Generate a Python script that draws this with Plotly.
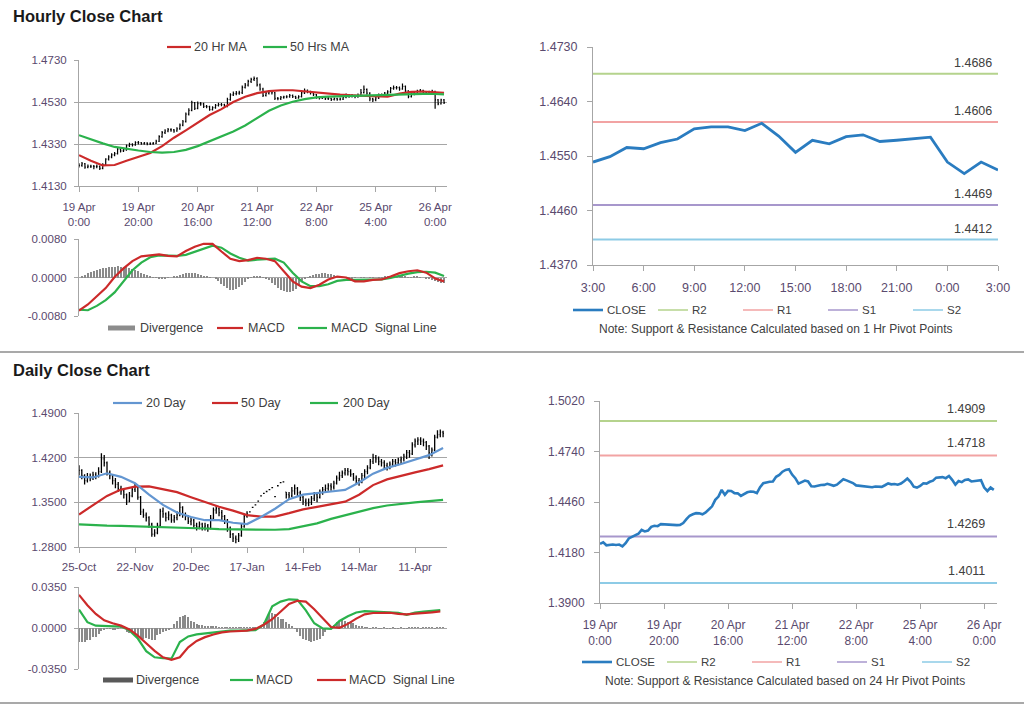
import plotly.graph_objects as go

W, H = 1024, 706
FONT = "Liberation Sans, Arial, sans-serif"
TICK_COLOR = "#5a4a6e"
TEXT_COLOR = "#404040"
GRID = "#a6a6a6"

RED = "#cc2a2a"
GREEN = "#2bb24c"
BLUE20 = "#6396d1"
CLOSE_BLUE = "#2a7cc0"
R2_C, R1_C, S1_C, S2_C = "#b5d38d", "#f2a3a3", "#a797cc", "#8dcbe6"
HIST = "#8a8a8a"

# ---------------- hourly data (bar index = trading hour since 19 Apr 0:00) ----------------
hourly_close = [
    1.4228, 1.4236, 1.4220, 1.4224, 1.4224, 1.4222, 1.4224, 1.4214, 1.4232, 1.4258,
    1.4268, 1.4278, 1.4284, 1.4305, 1.4297, 1.4302, 1.4322, 1.4328, 1.4326, 1.4337,
    1.4336, 1.4332, 1.4334, 1.4331, 1.4332, 1.4333, 1.4343, 1.4365, 1.4384, 1.4392,
    1.4398, 1.4397, 1.4392, 1.4402, 1.4420, 1.4436, 1.4472, 1.4490, 1.4527, 1.4500,
    1.4522, 1.4521, 1.4509, 1.4508, 1.4494, 1.4503, 1.4514, 1.4518, 1.4517, 1.4509,
    1.4542, 1.4564, 1.4570, 1.4572, 1.4574, 1.4600, 1.4610, 1.4628, 1.4638, 1.4642,
    1.4612, 1.4592, 1.4562, 1.4572, 1.4579, 1.4574, 1.4547, 1.4546, 1.4552, 1.4554,
    1.4555, 1.4561, 1.4556, 1.4550, 1.4556, 1.4573, 1.4586, 1.4580, 1.4573, 1.4565,
    1.4552, 1.4550, 1.4551, 1.4546, 1.4547, 1.4542, 1.4546, 1.4543, 1.4544, 1.4553,
    1.4563, 1.4558, 1.4560, 1.4556, 1.4562, 1.4575, 1.4590, 1.4572, 1.4545, 1.4540,
    1.4549, 1.4564, 1.4562, 1.4572, 1.4578, 1.4595, 1.4598, 1.4598, 1.4592, 1.4604,
    1.4583, 1.4556, 1.4576, 1.4570, 1.4582, 1.4585, 1.4574, 1.4576, 1.4578, 1.4581,
    1.4540, 1.4521, 1.4540, 1.4527,
]
hourly_high = [
    1.4238, 1.4244, 1.4240, 1.4232, 1.4231, 1.4230, 1.4232, 1.4228, 1.4238, 1.4262,
    1.4276, 1.4286, 1.4292, 1.4312, 1.4310, 1.4310, 1.4328, 1.4336, 1.4334, 1.4343,
    1.4344, 1.4340, 1.4340, 1.4338, 1.4338, 1.4340, 1.4350, 1.4372, 1.4392, 1.4400,
    1.4406, 1.4405, 1.4402, 1.4410, 1.4428, 1.4444, 1.4480, 1.4500, 1.4536, 1.4530,
    1.4532, 1.4530, 1.4526, 1.4516, 1.4512, 1.4510, 1.4520, 1.4526, 1.4525, 1.4522,
    1.4550, 1.4572, 1.4580, 1.4582, 1.4584, 1.4608, 1.4620, 1.4636, 1.4646, 1.4652,
    1.4648, 1.4618, 1.4598, 1.4580, 1.4586, 1.4584, 1.4578, 1.4554, 1.4558, 1.4560,
    1.4562, 1.4568, 1.4566, 1.4560, 1.4562, 1.4580, 1.4594, 1.4590, 1.4584, 1.4576,
    1.4568, 1.4558, 1.4558, 1.4555, 1.4554, 1.4550, 1.4552, 1.4550, 1.4551, 1.4560,
    1.4570, 1.4568, 1.4568, 1.4564, 1.4570, 1.4592, 1.4609, 1.4594, 1.4576, 1.4550,
    1.4556, 1.4570, 1.4570, 1.4578, 1.4586, 1.4602, 1.4608, 1.4606, 1.4604, 1.4618,
    1.4608, 1.4586, 1.4582, 1.4580, 1.4588, 1.4592, 1.4588, 1.4582, 1.4584, 1.4588,
    1.4584, 1.4544, 1.4546, 1.4544,
]
hourly_low = [
    1.4218, 1.4222, 1.4212, 1.4214, 1.4216, 1.4210, 1.4214, 1.4206, 1.4210, 1.4228,
    1.4252, 1.4262, 1.4272, 1.4280, 1.4290, 1.4292, 1.4298, 1.4316, 1.4318, 1.4322,
    1.4328, 1.4326, 1.4326, 1.4324, 1.4325, 1.4326, 1.4330, 1.4340, 1.4360, 1.4378,
    1.4386, 1.4388, 1.4384, 1.4388, 1.4398, 1.4414, 1.4432, 1.4466, 1.4486, 1.4492,
    1.4496, 1.4512, 1.4502, 1.4500, 1.4488, 1.4490, 1.4498, 1.4508, 1.4510, 1.4502,
    1.4505, 1.4536, 1.4558, 1.4562, 1.4564, 1.4568, 1.4594, 1.4604, 1.4620, 1.4630,
    1.4604, 1.4584, 1.4554, 1.4556, 1.4566, 1.4566, 1.4540, 1.4538, 1.4540, 1.4546,
    1.4548, 1.4550, 1.4549, 1.4544, 1.4546, 1.4552, 1.4568, 1.4572, 1.4566, 1.4558,
    1.4545, 1.4542, 1.4544, 1.4540, 1.4540, 1.4535, 1.4537, 1.4536, 1.4537, 1.4540,
    1.4548, 1.4550, 1.4552, 1.4548, 1.4550, 1.4556, 1.4570, 1.4564, 1.4534, 1.4530,
    1.4534, 1.4544, 1.4554, 1.4556, 1.4566, 1.4572, 1.4588, 1.4590, 1.4584, 1.4588,
    1.4576, 1.4548, 1.4552, 1.4562, 1.4566, 1.4576, 1.4568, 1.4568, 1.4570, 1.4572,
    1.4498, 1.4514, 1.4518, 1.4520,
]
hourly_ma_idx = [0, 4, 8, 12, 16, 20, 24, 28, 32, 36, 40, 44, 48, 52, 56, 60,
                 64, 68, 72, 76, 80, 84, 88, 92, 96, 100, 104, 108, 112, 116, 120, 123]
hourly_ma20 = [1.4277, 1.4250, 1.4228, 1.4230, 1.4250, 1.4270, 1.4287, 1.4320, 1.4360, 1.4395,
               1.4433, 1.4468, 1.4496, 1.4530, 1.4555, 1.4572, 1.4582, 1.4586, 1.4586, 1.4580,
               1.4574, 1.4570, 1.4565, 1.4562, 1.4560, 1.4556, 1.4555, 1.4570, 1.4578, 1.4580,
               1.4578, 1.4574]
hourly_ma50 = [1.4372, 1.4352, 1.4333, 1.4316, 1.4306, 1.4299, 1.4292, 1.4289, 1.4292, 1.4302,
               1.4320, 1.4343, 1.4366, 1.4390, 1.4418, 1.4455, 1.4488, 1.4513, 1.4531, 1.4544,
               1.4552, 1.4556, 1.4558, 1.4560, 1.4562, 1.4564, 1.4566, 1.4568, 1.4569, 1.4569,
               1.4568, 1.4566]
hourly_macd_idx = list(range(0, 124, 3))
hourly_macd = [-0.0069, -0.0056, -0.0039, -0.0022, 0.0001, 0.0019, 0.0034, 0.0044, 0.0046, 0.0048,
               0.0045, 0.0044, 0.0055, 0.0064, 0.0070, 0.0070, 0.0054, 0.0039, 0.0034, 0.0036,
               0.0041, 0.0039, 0.0034, 0.0012, -0.0008, -0.0019, -0.0022, -0.0015, -0.0004, 0.0002,
               0.0000, -0.0008, -0.0008, -0.0005, -0.0004, 0.0002, 0.0009, 0.0013, 0.0015, 0.0010,
               -0.0002, -0.0008]
hourly_signal = [-0.0067, -0.0068, -0.0059, -0.0047, -0.0031, -0.0008, 0.0015, 0.0031, 0.0042, 0.0046,
                 0.0046, 0.0045, 0.0047, 0.0053, 0.0060, 0.0066, 0.0062, 0.0050, 0.0041, 0.0035,
                 0.0037, 0.0038, 0.0039, 0.0031, 0.0010, -0.0008, -0.0018, -0.0018, -0.0014, -0.0007,
                 -0.0005, -0.0005, -0.0005, -0.0005, -0.0004, -0.0001, 0.0004, 0.0008, 0.0011, 0.0012,
                 0.0010, 0.0003]
hourly_divergence = [
    0.0000, 0.0003, 0.0006, 0.0009, 0.0012, 0.0014, 0.0016, 0.0018, 0.0019, 0.0020,
    0.0021, 0.0022, 0.0022, 0.0023, 0.0022, 0.0021, 0.0021, 0.0019, 0.0017, 0.0015,
    0.0013, 0.0010, 0.0007, 0.0005, 0.0003, 0.0001, -0.0001, -0.0002, -0.0002, -0.0002,
    -0.0001, 0.0000, 0.0002, 0.0004, 0.0006, 0.0008, 0.0009, 0.0010, 0.0010, 0.0009,
    0.0007, 0.0005, 0.0003, 0.0002, 0.0001, 0.0000, -0.0003, -0.0008, -0.0013, -0.0018,
    -0.0022, -0.0025, -0.0026, -0.0024, -0.0020, -0.0015, -0.0009, -0.0004, 0.0001, 0.0003,
    0.0004, 0.0003, 0.0001, -0.0002, -0.0006, -0.0011, -0.0016, -0.0021, -0.0025, -0.0028,
    -0.0030, -0.0030, -0.0028, -0.0023, -0.0016, -0.0008, -0.0002, 0.0001, 0.0003, 0.0005,
    0.0007, 0.0008, 0.0009, 0.0009, 0.0008, 0.0007, 0.0005, 0.0003, 0.0001, 0.0000,
    -0.0001, -0.0002, -0.0002, -0.0001, 0.0000, 0.0001, 0.0001, 0.0000, -0.0001, -0.0001,
    0.0000, 0.0001, 0.0001, 0.0002, 0.0002, 0.0003, 0.0003, 0.0004, 0.0004, 0.0003,
    0.0002, 0.0001, 0.0001, 0.0002, 0.0002, 0.0001, 0.0000, -0.0002, -0.0004, -0.0006,
    -0.0008, -0.0010, -0.0011, -0.0012,
]
hourly_tick_idx = [0, 20, 40, 60, 80, 100, 120]
hourly_tick_text = ["19 Apr<br>0:00", "19 Apr<br>20:00", "20 Apr<br>16:00", "21 Apr<br>12:00",
                    "22 Apr<br>8:00", "25 Apr<br>4:00", "26 Apr<br>0:00"]
hourly_price_ticks = [1.4130, 1.4330, 1.4530, 1.4730]
hourly_macd_ticks = [-0.0080, 0.0000, 0.0080]

# ---------------- pivot charts ----------------
pivot_names = ["R2", "R1", "S1", "S2"]
pivot_colors = [R2_C, R1_C, S1_C, S2_C]
pivot_1h_levels = [1.4686, 1.4606, 1.4469, 1.4412]
pivot_24h_levels = [1.4909, 1.4718, 1.4269, 1.4011]
last_day_hours = list(range(25))
last_day_tick_idx = [0, 3, 6, 9, 12, 15, 18, 21, 24]
last_day_tick_text = ["3:00", "6:00", "9:00", "12:00", "15:00", "18:00", "21:00", "0:00", "3:00"]
pivot_1h_ticks = [1.4370, 1.4460, 1.4550, 1.4640, 1.4730]
pivot_24h_ticks = [1.3900, 1.4180, 1.4460, 1.4740, 1.5020]

# ---------------- daily data (bar index = trading day since 25-Oct) ----------------
daily_close = [
    1.400, 1.392, 1.384, 1.390, 1.388, 1.393, 1.391, 1.398, 1.418, 1.412,
    1.396, 1.392, 1.384, 1.378, 1.372, 1.368, 1.362, 1.352, 1.360, 1.370,
    1.374, 1.358, 1.335, 1.330, 1.326, 1.316, 1.300, 1.302, 1.314, 1.336,
    1.332, 1.326, 1.330, 1.322, 1.326, 1.330, 1.342, 1.330, 1.328, 1.320,
    1.322, 1.314, 1.312, 1.316, 1.311, 1.313, 1.310, 1.325, 1.338, 1.340,
    1.334, 1.328, 1.322, 1.310, 1.300, 1.294, 1.292, 1.298, 1.312, 1.328,
    1.332, 1.335, 1.342, 1.346, 1.352, 1.360, 1.364, 1.367, 1.370, 1.373,
    1.359, 1.376, 1.381, 1.382, 1.362, 1.360, 1.368, 1.372, 1.365, 1.358,
    1.352, 1.348, 1.350, 1.356, 1.362, 1.358, 1.366, 1.370, 1.372, 1.376,
    1.374, 1.380, 1.388, 1.392, 1.396, 1.400, 1.398, 1.394, 1.388, 1.384,
    1.382, 1.392, 1.398, 1.404, 1.414, 1.420, 1.418, 1.414, 1.412, 1.408,
    1.406, 1.410, 1.414, 1.412, 1.416, 1.418, 1.422, 1.428, 1.426, 1.440,
    1.446, 1.448, 1.446, 1.444, 1.438, 1.428, 1.432, 1.452, 1.456, 1.460,
    1.458,
]
daily_high = [
    1.408, 1.402, 1.394, 1.396, 1.395, 1.398, 1.397, 1.405, 1.427, 1.424,
    1.414, 1.400, 1.394, 1.388, 1.382, 1.376, 1.370, 1.364, 1.366, 1.374,
    1.380, 1.376, 1.360, 1.340, 1.334, 1.328, 1.318, 1.308, 1.318, 1.340,
    1.342, 1.334, 1.336, 1.332, 1.330, 1.336, 1.350, 1.344, 1.334, 1.330,
    1.326, 1.324, 1.318, 1.320, 1.318, 1.318, 1.316, 1.330, 1.342, 1.346,
    1.342, 1.338, 1.330, 1.324, 1.312, 1.302, 1.298, 1.302, 1.316, 1.332,
    1.336, 1.335, 1.342, 1.346, 1.352, 1.360, 1.364, 1.367, 1.370, 1.373,
    1.359, 1.376, 1.381, 1.382, 1.366, 1.366, 1.374, 1.378, 1.374, 1.368,
    1.360, 1.356, 1.356, 1.360, 1.366, 1.366, 1.370, 1.374, 1.378, 1.380,
    1.380, 1.384, 1.392, 1.398, 1.400, 1.404, 1.404, 1.402, 1.396, 1.392,
    1.388, 1.396, 1.402, 1.408, 1.418, 1.426, 1.424, 1.422, 1.418, 1.416,
    1.412, 1.414, 1.418, 1.418, 1.420, 1.422, 1.426, 1.432, 1.432, 1.444,
    1.450, 1.452, 1.452, 1.450, 1.446, 1.440, 1.436, 1.456, 1.463, 1.464,
    1.462,
]
daily_low = [
    1.392, 1.386, 1.378, 1.381, 1.383, 1.385, 1.386, 1.389, 1.396, 1.406,
    1.392, 1.386, 1.378, 1.372, 1.366, 1.362, 1.356, 1.346, 1.350, 1.358,
    1.366, 1.354, 1.330, 1.326, 1.320, 1.310, 1.296, 1.296, 1.300, 1.312,
    1.326, 1.320, 1.322, 1.318, 1.318, 1.322, 1.328, 1.326, 1.322, 1.316,
    1.314, 1.310, 1.306, 1.308, 1.306, 1.306, 1.304, 1.308, 1.322, 1.332,
    1.328, 1.322, 1.316, 1.304, 1.294, 1.288, 1.286, 1.288, 1.296, 1.310,
    1.326, 1.335, 1.342, 1.346, 1.352, 1.360, 1.364, 1.367, 1.370, 1.373,
    1.359, 1.376, 1.381, 1.382, 1.356, 1.354, 1.358, 1.362, 1.360, 1.352,
    1.346, 1.344, 1.344, 1.346, 1.352, 1.350, 1.356, 1.362, 1.366, 1.368,
    1.368, 1.370, 1.378, 1.384, 1.388, 1.392, 1.392, 1.390, 1.384, 1.378,
    1.376, 1.380, 1.388, 1.394, 1.402, 1.410, 1.412, 1.408, 1.406, 1.402,
    1.400, 1.402, 1.406, 1.406, 1.408, 1.410, 1.414, 1.418, 1.420, 1.424,
    1.436, 1.440, 1.440, 1.438, 1.432, 1.418, 1.422, 1.430, 1.450, 1.452,
    1.452,
]
daily_ma_idx = list(range(0, 131, 5))
daily_ma20 = [1.390, 1.389, 1.3955, 1.390, 1.380, 1.362, 1.346, 1.334, 1.327, 1.322,
              1.322, 1.318, 1.316, 1.327, 1.340, 1.355, 1.362, 1.365, 1.367, 1.3695,
              1.381, 1.395, 1.404, 1.410, 1.417, 1.424, 1.435]
daily_ma50 = [1.331, 1.346, 1.360, 1.370, 1.3745, 1.375, 1.371, 1.366, 1.358, 1.350,
              1.343, 1.337, 1.330, 1.3277, 1.3277, 1.333, 1.339, 1.343, 1.347, 1.351,
              1.362, 1.377, 1.386, 1.392, 1.397, 1.402, 1.408]
daily_ma200 = [1.3155, 1.314, 1.3135, 1.313, 1.3125, 1.312, 1.3115, 1.311, 1.310, 1.309,
               1.308, 1.3075, 1.307, 1.3068, 1.307, 1.308, 1.312, 1.317, 1.324, 1.330,
               1.336, 1.341, 1.345, 1.348, 1.350, 1.352, 1.354]
daily_macd_idx = list(range(0, 130, 3))
daily_macd = [0.0158, 0.0050, 0.0020, 0.0019, 0.0018, 0.0012, -0.0020, -0.0090, -0.0198, -0.0250,
              -0.0258, -0.0262, -0.0120, -0.0072, -0.0055, -0.0048, -0.0038, -0.0030, -0.0022, -0.0022,
              -0.0020, -0.0018, 0.0030, 0.0185, 0.0225, 0.0245, 0.0240, 0.0150, 0.0040, -0.0004,
              -0.0008, 0.0060, 0.0100, 0.0132, 0.0144, 0.0140, 0.0135, 0.0131, 0.0130, 0.0112,
              0.0131, 0.0140, 0.0146, 0.0152]
daily_signal = [0.0283, 0.0195, 0.0120, 0.0065, 0.0040, 0.0020, -0.0012, -0.0065, -0.0130, -0.0195,
                -0.0250, -0.0272, -0.0250, -0.0165, -0.0110, -0.0078, -0.0055, -0.0038, -0.0030, -0.0028,
                -0.0022, -0.0008, 0.0028, 0.0075, 0.0140, 0.0205, 0.0232, 0.0225, 0.0160, 0.0080,
                0.0008, 0.0002, 0.0035, 0.0080, 0.0117, 0.0128, 0.0130, 0.0130, 0.0120, 0.0117,
                0.0122, 0.0126, 0.0133, 0.0142]
daily_divergence = [
    -0.0120, -0.0120, -0.0118, -0.0105, -0.0100, -0.0080, -0.0075, -0.0050, -0.0022, -0.0020,
    -0.0008, -0.0008, -0.0020, -0.0010, -0.0006, 0.0005, 0.0003, -0.0035, -0.0042, -0.0045,
    -0.0070, -0.0080, -0.0085, -0.0090, -0.0088, -0.0092, -0.0105, -0.0100, -0.0060, -0.0050,
    -0.0030, -0.0025, -0.0010, -0.0008, 0.0030, 0.0060, 0.0090, 0.0100, 0.0110, 0.0090,
    0.0060, 0.0047, 0.0033, 0.0025, 0.0025, 0.0020, 0.0020, 0.0010, 0.0010, 0.0010,
    0.0008, 0.0005, 0.0005, 0.0004, 0.0005, 0.0004, 0.0003, 0.0004, 0.0003, 0.0003,
    0.0003, 0.0002, 0.0002, 0.0002, 0.0005, 0.0020, 0.0047, 0.0090, 0.0117, 0.0130,
    0.0117, 0.0090, 0.0080, 0.0075, 0.0053, 0.0033, 0.0020, -0.0008, -0.0036, -0.0064,
    -0.0092, -0.0105, -0.0114, -0.0120, -0.0114, -0.0105, -0.0092, -0.0064, -0.0036, -0.0008,
    0.0005, 0.0025, 0.0047, 0.0060, 0.0070, 0.0060, 0.0053, 0.0047, 0.0039, 0.0025,
    0.0020, 0.0010, 0.0005, 0.0003, -0.0002, 0.0003, 0.0002, -0.0003, -0.0002, 0.0002,
    -0.0002, -0.0004, 0.0002, -0.0003, -0.0002, 0.0003, -0.0004, -0.0002, 0.0003, 0.0004,
    0.0005, 0.0003, -0.0003, 0.0004, 0.0006, 0.0005, 0.0003, -0.0002, 0.0004, 0.0005,
    0.0003,
]
daily_tick_idx = [0, 20, 40, 60, 80, 100, 120]
daily_tick_text = ["25-Oct", "22-Nov", "20-Dec", "17-Jan", "14-Feb", "14-Mar", "11-Apr"]
daily_price_ticks = [1.2800, 1.3500, 1.4200, 1.4900]
daily_macd_ticks = [-0.0350, 0.0000, 0.0350]


def opens_from_prev_close(close, high, low):
    out = [close[0]]
    for i in range(1, len(close)):
        out.append(min(max(close[i - 1], low[i]), high[i]))
    return out


def dx(x0, x1):
    return [x0 / W, x1 / W]


def dy(y0, y1):
    return [1 - y1 / H, 1 - y0 / H]


def py(y):
    return 1 - y / H


hourly_idx = list(range(len(hourly_close)))
daily_idx = list(range(len(daily_close)))

fig = go.Figure()

# ---- panel 1: hourly price ----
fig.add_trace(go.Ohlc(
    x=hourly_idx, open=opens_from_prev_close(hourly_close, hourly_high, hourly_low),
    high=hourly_high, low=hourly_low, close=hourly_close, xaxis="x", yaxis="y",
    increasing=dict(line=dict(color="black", width=1.2)),
    decreasing=dict(line=dict(color="black", width=1.2)),
    tickwidth=0.3, showlegend=False, hoverinfo="skip"))
fig.add_trace(go.Scatter(x=hourly_ma_idx, y=hourly_ma20, mode="lines", xaxis="x", yaxis="y",
                         line=dict(color=RED, width=2.2), showlegend=False, hoverinfo="skip"))
fig.add_trace(go.Scatter(x=hourly_ma_idx, y=hourly_ma50, mode="lines", xaxis="x", yaxis="y",
                         line=dict(color=GREEN, width=2.2), showlegend=False, hoverinfo="skip"))

# ---- panel 2: hourly MACD ----
fig.add_trace(go.Bar(x=hourly_idx, y=hourly_divergence, xaxis="x2", yaxis="y2", width=0.35,
                     marker=dict(color=HIST, line=dict(width=0)), showlegend=False, hoverinfo="skip"))
fig.add_trace(go.Scatter(x=hourly_macd_idx, y=hourly_signal, mode="lines", xaxis="x2", yaxis="y2",
                         line=dict(color=GREEN, width=2.2), showlegend=False, hoverinfo="skip"))
fig.add_trace(go.Scatter(x=hourly_macd_idx, y=hourly_macd, mode="lines", xaxis="x2", yaxis="y2",
                         line=dict(color=RED, width=2.2), showlegend=False, hoverinfo="skip"))

# ---- panel 3: last day vs 1h pivots ----
for lvl, col in zip(pivot_1h_levels, pivot_colors):
    fig.add_trace(go.Scatter(x=[last_day_hours[0], last_day_hours[-1]], y=[lvl, lvl], mode="lines",
                             xaxis="x3", yaxis="y3", line=dict(color=col, width=2),
                             showlegend=False, hoverinfo="skip"))
fig.add_trace(go.Scatter(x=last_day_hours, y=hourly_close[-len(last_day_hours):], mode="lines",
                         xaxis="x3", yaxis="y3", line=dict(color=CLOSE_BLUE, width=2.8),
                         showlegend=False, hoverinfo="skip"))

# ---- panel 4: daily price ----
fig.add_trace(go.Ohlc(
    x=daily_idx, open=opens_from_prev_close(daily_close, daily_high, daily_low),
    high=daily_high, low=daily_low, close=daily_close, xaxis="x4", yaxis="y4",
    increasing=dict(line=dict(color="black", width=1.3)),
    decreasing=dict(line=dict(color="black", width=1.3)),
    tickwidth=0.3, showlegend=False, hoverinfo="skip"))
for ma, col in ((daily_ma200, GREEN), (daily_ma50, RED), (daily_ma20, BLUE20)):
    fig.add_trace(go.Scatter(x=daily_ma_idx, y=ma, mode="lines", xaxis="x4", yaxis="y4",
                             line=dict(color=col, width=2.2), showlegend=False, hoverinfo="skip"))

# ---- panel 5: daily MACD ----
fig.add_trace(go.Bar(x=daily_idx, y=daily_divergence, xaxis="x5", yaxis="y5", width=0.35,
                     marker=dict(color=HIST, line=dict(width=0)), showlegend=False, hoverinfo="skip"))
fig.add_trace(go.Scatter(x=daily_macd_idx, y=daily_macd, mode="lines", xaxis="x5", yaxis="y5",
                         line=dict(color=GREEN, width=2.2), showlegend=False, hoverinfo="skip"))
fig.add_trace(go.Scatter(x=daily_macd_idx, y=daily_signal, mode="lines", xaxis="x5", yaxis="y5",
                         line=dict(color=RED, width=2.2), showlegend=False, hoverinfo="skip"))

# ---- panel 6: hourly close vs 24h pivots ----
for lvl, col in zip(pivot_24h_levels, pivot_colors):
    fig.add_trace(go.Scatter(x=[0, hourly_idx[-1] + 1], y=[lvl, lvl], mode="lines",
                             xaxis="x6", yaxis="y6", line=dict(color=col, width=2),
                             showlegend=False, hoverinfo="skip"))
fig.add_trace(go.Scatter(x=hourly_idx, y=hourly_close, mode="lines", xaxis="x6", yaxis="y6",
                         line=dict(color=CLOSE_BLUE, width=2.6), showlegend=False, hoverinfo="skip"))


def fmt(vals):
    return [f"{v:.4f}" for v in vals]


def yax(domain, anchor, rng, ticks, grid, size, standoff, ticklen=4):
    return dict(domain=domain, anchor=anchor, range=rng, tickmode="array", tickvals=ticks,
                ticktext=fmt(ticks), showgrid=grid, gridcolor=GRID, gridwidth=1,
                showline=True, linecolor=GRID, linewidth=1, ticks="outside", ticklen=ticklen,
                tickcolor=GRID, zeroline=False, fixedrange=True, ticklabelstandoff=standoff,
                automargin=False,
                tickfont=dict(family=FONT, size=size, color=TICK_COLOR))


def xax(domain, anchor, rng, tickvals=None, ticktext=None, size=11.5, standoff=5, show=True):
    d = dict(domain=domain, anchor=anchor, range=rng, showgrid=False, zeroline=False,
             fixedrange=True, rangeslider=dict(visible=False), automargin=False)
    if show:
        d.update(tickmode="array", tickvals=tickvals, ticktext=ticktext, showline=True,
                 linecolor=GRID, linewidth=1, ticks="outside", ticklen=5, tickcolor=GRID,
                 ticklabelstandoff=standoff,
                 tickfont=dict(family=FONT, size=size, color=TICK_COLOR))
    else:
        d.update(showline=False, showticklabels=False, ticks="")
    return d


layout = dict(
    width=W, height=H, margin=dict(l=0, r=0, t=0, b=0, pad=0, autoexpand=False),
    paper_bgcolor="white", plot_bgcolor="white", showlegend=False, bargap=0,
    xaxis=xax(dx(79, 447), "y", [0, 124], hourly_tick_idx, hourly_tick_text, 11.5, 5),
    yaxis=yax(dy(60, 186), "x", [1.4130, 1.4730], hourly_price_ticks, True, 11.5, 5),
    xaxis2=xax(dx(79, 447), "y2", [0, 124], show=False),
    yaxis2=yax(dy(239, 316), "x2", [-0.0080, 0.0080], hourly_macd_ticks, True, 11.5, 5),
    xaxis3=xax(dx(593, 998), "y3", [0, 24], last_day_tick_idx, last_day_tick_text, 12.5, 6),
    yaxis3=yax(dy(47, 265), "x3", [1.4370, 1.4730], pivot_1h_ticks, False, 12.5, 7, 5),
    xaxis4=xax(dx(79, 447), "y4", [0, 131.4], daily_tick_idx, daily_tick_text, 11.5, 4),
    yaxis4=yax(dy(413, 547), "x4", [1.2800, 1.4900], daily_price_ticks, True, 11.5, 5),
    xaxis5=xax(dx(79, 447), "y5", [0, 131.4], show=False),
    yaxis5=yax(dy(587, 669), "x5", [-0.0350, 0.0350], daily_macd_ticks, True, 11.5, 5),
    xaxis6=xax(dx(600, 997), "y6", [0, 124], hourly_tick_idx, hourly_tick_text, 12, 6),
    yaxis6=yax(dy(401, 603), "x6", [1.3900, 1.5020], pivot_24h_ticks, False, 12, 7, 5),
)
fig.update_layout(**layout)

shapes = []
annotations = []


def text(x, y, s, size=12.5, color=TEXT_COLOR, anchor="left", bold=False):
    annotations.append(dict(xref="paper", yref="paper", x=x / W, y=py(y), text=s, showarrow=False,
                            xanchor=anchor, yanchor="middle", borderpad=0,
                            font=dict(family=FONT, size=size, color=color,
                                      weight="bold" if bold else "normal")))


def swatch_line(x0, x1, y, color, width=2.2):
    shapes.append(dict(type="line", xref="paper", yref="paper", x0=x0 / W, x1=x1 / W,
                       y0=py(y), y1=py(y), line=dict(color=color, width=width)))


def swatch_rect(x0, x1, y, color, h=5):
    shapes.append(dict(type="rect", xref="paper", yref="paper", x0=x0 / W, x1=x1 / W,
                       y0=py(y + h / 2), y1=py(y - h / 2), fillcolor=color, line=dict(width=0)))


# titles
text(12, 16, "Hourly Close Chart", size=16.5, color="#1a1a1a", bold=True)
text(12, 370, "Daily Close Chart", size=16.5, color="#1a1a1a", bold=True)

# separators
for y in (352, 703):
    shapes.append(dict(type="line", xref="paper", yref="paper", x0=0, x1=1, y0=py(y), y1=py(y),
                       line=dict(color="#8c8c8c", width=1.5)))

# legend: hourly price
swatch_line(167, 191, 47, RED)
text(193, 47, "20 Hr MA")
swatch_line(263, 287, 47, GREEN)
text(289, 47, "50 Hrs MA")

# legend: hourly MACD
swatch_rect(108, 135, 328, "#8c8c8c")
text(139, 328, "Divergence")
swatch_line(217, 243, 328, RED)
text(247, 328, "MACD")
swatch_line(298, 327, 328, GREEN)
text(330, 328, "MACD  Signal Line")

# legend: daily price
swatch_line(113, 142, 403, BLUE20)
text(145, 403, "20 Day")
swatch_line(212, 238, 403, RED)
text(240, 403, "50 Day")
swatch_line(310, 338, 403, GREEN)
text(342, 403, "200 Day")

# legend: daily MACD
swatch_rect(103, 133, 680, "#595959")
text(135, 680, "Divergence")
swatch_line(230, 253, 680, GREEN)
text(255, 680, "MACD")
swatch_line(317, 346, 680, RED)
text(348, 680, "MACD  Signal Line")

# legends + notes for pivot charts
for (lx, ty, note) in ((573, 310, "Note: Support & Resistance Calculated based on 1 Hr Pivot Points"),
                       (582, 662, "Note: Support & Resistance Calculated based on 24 Hr Pivot Points")):
    names = ["CLOSE"] + pivot_names
    cols = [CLOSE_BLUE] + pivot_colors
    for k, (nm, col) in enumerate(zip(names, cols)):
        x0 = lx + k * 85
        swatch_line(x0, x0 + 30, ty, col, 2.6 if k == 0 else 1.5)
        text(x0 + 33, ty, nm, size=11.5)
    text(lx + 203, ty + 19, note, size=12, anchor="center")

# pivot level labels
for lvl in pivot_1h_levels:
    annotations.append(dict(xref="x3", yref="y3", x=24, y=lvl, text=f"{lvl:.4f}", showarrow=False,
                            xanchor="right", yanchor="bottom", xshift=-4, yshift=2,
                            font=dict(family=FONT, size=12.5, color=TEXT_COLOR)))
for lvl in pivot_24h_levels:
    annotations.append(dict(xref="x6", yref="y6", x=124, y=lvl, text=f"{lvl:.4f}", showarrow=False,
                            xanchor="right", yanchor="bottom", xshift=-10, yshift=3,
                            font=dict(family=FONT, size=12.5, color=TEXT_COLOR)))

fig.update_layout(shapes=shapes, annotations=annotations)
fig.write_html("out.html", config={"displayModeBar": False})
